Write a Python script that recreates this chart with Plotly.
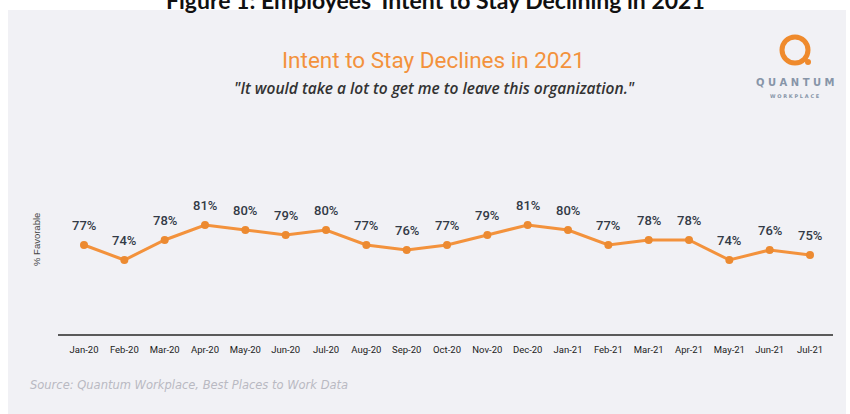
import plotly.graph_objects as go

# Monthly "% Favorable" responses
months = ["Jan-20", "Feb-20", "Mar-20", "Apr-20", "May-20", "Jun-20", "Jul-20",
          "Aug-20", "Sep-20", "Oct-20", "Nov-20", "Dec-20", "Jan-21", "Feb-21",
          "Mar-21", "Apr-21", "May-21", "Jun-21", "Jul-21"]
favorable = [77, 74, 78, 81, 80, 79, 80, 77, 76, 77, 79, 81, 80, 77, 78, 78, 74, 76, 75]

W, H = 850, 414
L, R, T, B = 58, 17, 110, 80
PW, PH = W - L - R, H - T - B

ORANGE = "#f3923c"
PANEL = "#f1f1f5"
LABEL = "#333a46"
NARROW = "Roboto, sans-serif"


def px(x):
    return (x - L) / PW


def py(y):
    return (H - B - y) / PH


fig = go.Figure()

fig.add_trace(go.Scatter(
    x=months, y=favorable, mode="lines+markers",
    line=dict(color=ORANGE, width=3),
    marker=dict(color="#ec8a31", size=8),
    hoverinfo="x+y", showlegend=False,
))

annotations = []
for m, v in zip(months, favorable):
    annotations.append(dict(
        x=m, y=v, xref="x", yref="y", text=f"{v}%", showarrow=False,
        yshift=20, yanchor="middle",
        font=dict(family=NARROW, size=13, color=LABEL, weight=500),
    ))

# Figure caption (partly above the page edge)
annotations.append(dict(
    x=px(435), y=py(0), xref="paper", yref="paper", xanchor="center", yanchor="middle",
    text="<b>Figure 1: Employees' Intent to Stay Declining in 2021</b>", showarrow=False,
    font=dict(family="Lato, Open Sans, sans-serif", size=23, color="#111111"),
))
# Chart title and quote
annotations.append(dict(
    x=px(433), y=py(60), xref="paper", yref="paper", xanchor="center", yanchor="middle",
    text="Intent to Stay Declines in 2021", showarrow=False,
    font=dict(family="Roboto, sans-serif", size=22.5, color=ORANGE),
))
annotations.append(dict(
    x=px(434), y=py(88), xref="paper", yref="paper", xanchor="center", yanchor="middle",
    text="<i>\"It would take a lot to get me to leave this organization.\"</i>", showarrow=False,
    font=dict(family="Open Sans, sans-serif", size=15.5, color="#333333", weight=600),
))
# Logo wordmark
annotations.append(dict(
    x=px(795), y=py(82), xref="paper", yref="paper", xanchor="center", yanchor="middle",
    text="<b>Q U A N T U M</b>", showarrow=False,
    font=dict(family="DejaVu Sans, sans-serif", size=10, color="#8795a8"),
))
annotations.append(dict(
    x=px(795), y=py(96), xref="paper", yref="paper", xanchor="center", yanchor="middle",
    text="<b>W O R K P L A C E</b>", showarrow=False,
    font=dict(family="DejaVu Sans, sans-serif", size=5, color="#8795a8"),
))
# Y axis title
annotations.append(dict(
    x=px(36), y=py(240), xref="paper", yref="paper", xanchor="center", yanchor="middle",
    text="% Favorable", showarrow=False, textangle=-90,
    font=dict(family="Liberation Sans, Arial, sans-serif", size=9.5, color="#444444"),
))
# Source note
annotations.append(dict(
    x=px(28), y=py(385), xref="paper", yref="paper", xanchor="left", yanchor="middle",
    text="<i>Source: Quantum Workplace, Best Places to Work Data</i>", showarrow=False,
    font=dict(family="DejaVu Sans, sans-serif", size=11.5, color="#b9b9c2"),
))

shapes = [
    # background panel
    dict(type="rect", xref="paper", yref="paper", layer="below",
         x0=px(8), x1=px(846), y0=py(416), y1=py(10),
         fillcolor=PANEL, line=dict(width=0)),
    # logo ring
    dict(type="circle", xref="paper", yref="paper",
         x0=px(782), x1=px(808), y0=py(63), y1=py(37),
         line=dict(color="#ef8a2c", width=5), fillcolor="rgba(0,0,0,0)"),
    dict(type="circle", xref="paper", yref="paper",
         x0=px(805), x1=px(811), y0=py(65), y1=py(59),
         line=dict(width=0), fillcolor="#ef8a2c"),
]

fig.update_layout(
    width=W, height=H,
    margin=dict(l=L, r=R, t=T, b=B),
    paper_bgcolor="white", plot_bgcolor="rgba(0,0,0,0)",
    annotations=annotations, shapes=shapes,
    xaxis=dict(
        type="category", range=[-0.645, 18.57],
        showgrid=False, zeroline=False,
        showline=True, linecolor="#5a5a5a", linewidth=2,
        ticks="outside", ticklen=6, tickcolor="rgba(0,0,0,0)",
        tickfont=dict(family=NARROW, size=9.5, color="#222222"),
    ),
    yaxis=dict(range=[59.2, 104], visible=False, fixedrange=True),
)

fig.write_html("out.html")
